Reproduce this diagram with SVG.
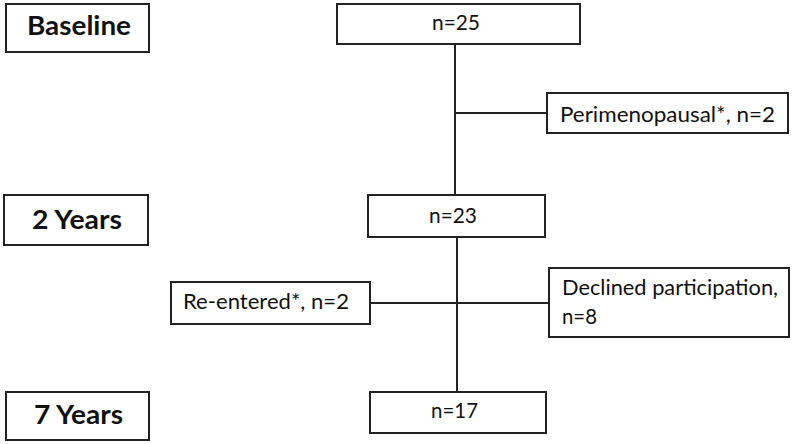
<svg xmlns="http://www.w3.org/2000/svg" width="793" height="444" viewBox="0 0 793 444">
<style>
.box{fill:#fff;stroke:#222;stroke-width:2}
.ln{stroke:#222;stroke-width:2;fill:none}
.t{font-family:Lato,"Liberation Sans",sans-serif;font-size:20.5px;fill:#111}
.b{font-family:Lato,"Liberation Sans",sans-serif;font-size:26px;font-weight:bold;fill:#111}
</style>
<rect width="793" height="444" fill="#fff"/>
<g id="connectors">
<line class="ln" x1="455" y1="44" x2="455" y2="196"/>
<line class="ln" x1="455" y1="113" x2="547" y2="113"/>
<line class="ln" x1="457" y1="237" x2="457" y2="392"/>
<line class="ln" x1="370" y1="303" x2="549" y2="303"/>
</g>
<g id="baseline"><rect class="box" x="6" y="4" width="143" height="48"/><text class="b" x="27" y="35" textLength="104" lengthAdjust="spacingAndGlyphs">Baseline</text></g>
<g id="years2"><rect class="box" x="4" y="195" width="144" height="50"/><text class="b" x="32" y="229" textLength="90" lengthAdjust="spacingAndGlyphs">2 Years</text></g>
<g id="years7"><rect class="box" x="6" y="392" width="143" height="48"/><text class="b" x="34" y="424" textLength="89" lengthAdjust="spacingAndGlyphs">7 Years</text></g>
<g id="n25"><rect class="box" x="337" y="4" width="243" height="40"/><text class="t" x="432" y="30" textLength="48" lengthAdjust="spacingAndGlyphs">n=25</text></g>
<g id="perimenopausal"><rect class="box" x="547" y="93" width="241" height="40"/><text class="t" x="560" y="122" textLength="215" lengthAdjust="spacingAndGlyphs">Perimenopausal*, n=2</text></g>
<g id="n23"><rect class="box" x="368" y="195" width="177" height="42"/><text class="t" x="429" y="223" textLength="48" lengthAdjust="spacingAndGlyphs">n=23</text></g>
<g id="reentered"><rect class="box" x="171" y="282" width="199" height="42"/><text class="t" x="183" y="309" textLength="166" lengthAdjust="spacingAndGlyphs">Re-entered*, n=2</text></g>
<g id="declined"><rect class="box" x="549" y="268" width="240" height="69"/><text class="t" x="562" y="295" textLength="216" lengthAdjust="spacingAndGlyphs">Declined participation,</text><text class="t" x="562" y="324" textLength="35" lengthAdjust="spacingAndGlyphs">n=8</text></g>
<g id="n17"><rect class="box" x="370" y="392" width="176" height="41"/><text class="t" x="431" y="418" textLength="47" lengthAdjust="spacingAndGlyphs">n=17</text></g>
</svg>
